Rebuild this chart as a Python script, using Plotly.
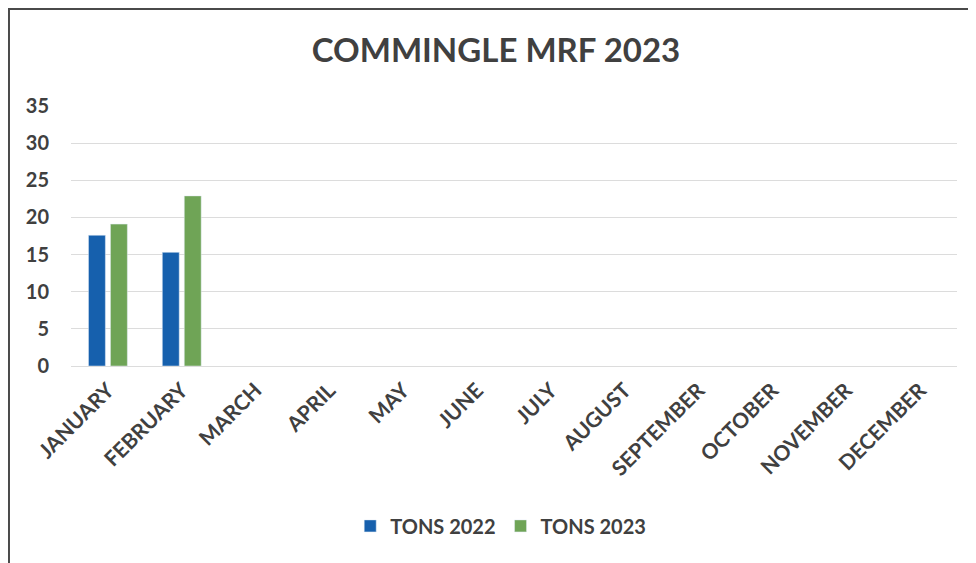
import plotly.graph_objects as go

months = ["JANUARY", "FEBRUARY", "MARCH", "APRIL", "MAY", "JUNE", "JULY",
          "AUGUST", "SEPTEMBER", "OCTOBER", "NOVEMBER", "DECEMBER"]
tons_2022 = [17.6, 15.3, None, None, None, None, None, None, None, None, None, None]
tons_2023 = [19.1, 22.9, None, None, None, None, None, None, None, None, None, None]
y_ticks = [0, 5, 10, 15, 20, 25, 30, 35]

TEXT = "#404040"
FONT = "Lato"

fig = go.Figure()
fig.add_trace(go.Bar(x=months, y=tons_2022, name="TONS 2022", marker_color="#1660AD"))
fig.add_trace(go.Bar(x=months, y=tons_2023, name="TONS 2023", marker_color="#6FA456"))

# the page body has an 8px margin, so the figure is laid out relative to (8, 8)
fig.update_layout(
    width=976, height=563,
    paper_bgcolor="white", plot_bgcolor="white",
    margin=dict(l=63, r=27, t=98, b=205, autoexpand=False),
    barmode="group", bargap=0.405, bargroupgap=0.23,
    title=dict(text="COMMINGLE MRF 2023", x=0.5, xanchor="center",
               y=1 - 42 / 563, yanchor="middle",
               font=dict(family=FONT, size=33, color=TEXT, weight="bold")),
    font=dict(family=FONT, color=TEXT),
    legend=dict(orientation="h", x=0.485, xanchor="center", y=-0.615, yanchor="middle",
                font=dict(family=FONT, size=20, color=TEXT, weight="bold"),
                itemwidth=30, traceorder="normal"),
    xaxis=dict(tickangle=-45, tickfont=dict(family=FONT, size=21, color=TEXT, weight="bold"),
               showline=False, showgrid=False, ticks="", ticklen=0,
               ticklabelstandoff=7, automargin=False),
    yaxis=dict(range=[0, 35], tickvals=y_ticks, showgrid=True, gridcolor="#dcdcdc",
               gridwidth=1, zeroline=True, zerolinecolor="#dcdcdc", zerolinewidth=1,
               tickfont=dict(family=FONT, size=20, color=TEXT, weight="bold"),
               ticks="", ticklabelstandoff=21, showline=False, automargin=False),
)

# chart frame
fig.add_shape(type="rect", xref="paper", yref="paper",
              x0=-0.07, x1=1.06, y0=-0.85, y1=1.373,
              line=dict(color="#4a4a4a", width=2), fillcolor="rgba(0,0,0,0)", layer="below")

fig.write_html("out.html")
